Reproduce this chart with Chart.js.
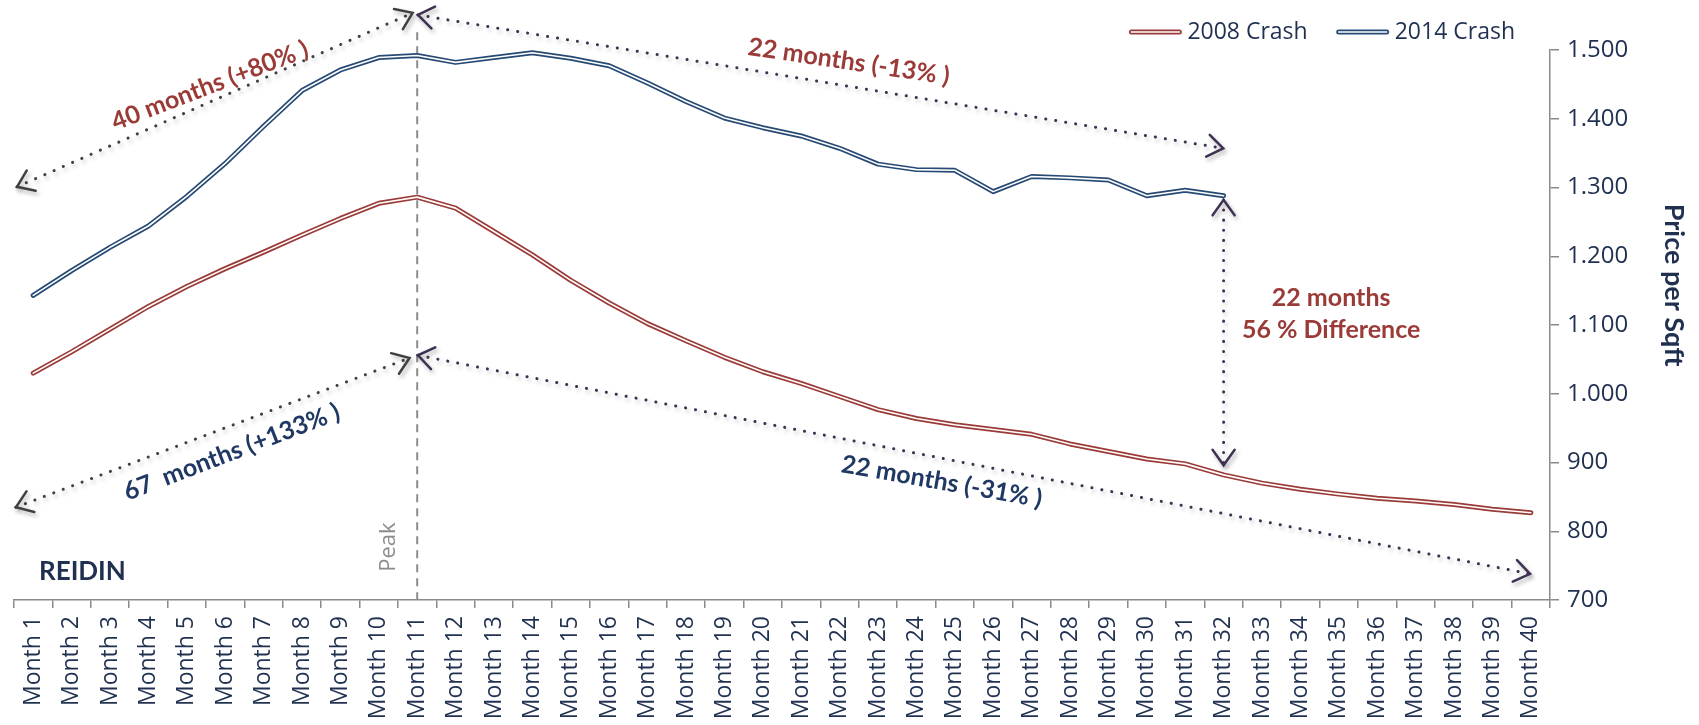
<!DOCTYPE html>
<html>
<head>
<meta charset="utf-8">
<script src="https://cdn.jsdelivr.net/npm/chart.js@4.4.1/dist/chart.umd.min.js"></script>
<style>
  html, body { margin: 0; padding: 0; background: #fff; }
  #wrap { width: 1699px; height: 725px; position: relative; }
</style>
</head>
<body>
<div id="wrap"><canvas id="chart"></canvas></div>
<script>
const months = ['Month 1', 'Month 2', 'Month 3', 'Month 4', 'Month 5', 'Month 6', 'Month 7', 'Month 8', 'Month 9', 'Month 10',
  'Month 11', 'Month 12', 'Month 13', 'Month 14', 'Month 15', 'Month 16', 'Month 17', 'Month 18', 'Month 19', 'Month 20',
  'Month 21', 'Month 22', 'Month 23', 'Month 24', 'Month 25', 'Month 26', 'Month 27', 'Month 28', 'Month 29', 'Month 30',
  'Month 31', 'Month 32', 'Month 33', 'Month 34', 'Month 35', 'Month 36', 'Month 37', 'Month 38', 'Month 39', 'Month 40']

const crash2008 = [1030, 1061, 1094, 1127, 1156, 1182, 1206, 1231, 1255, 1277,
  1286, 1270, 1236, 1202, 1165, 1132, 1102, 1077, 1053, 1032,
  1015, 996, 977, 964, 955, 948, 941, 927, 916, 905,
  898, 882, 870, 861, 854, 848, 844, 839, 832, 827]

const crash2014 = [1143, 1179, 1213, 1244, 1287, 1335, 1389, 1441, 1471, 1489,
  1492, 1482, 1489, 1496, 1488, 1477, 1452, 1425, 1401, 1387,
  1375, 1357, 1334, 1326, 1325, 1294, 1316, 1314, 1311, 1288,
  1296, 1288]

const yTickValues = [700, 800, 900, 1000, 1100, 1200, 1300, 1400, 1500]
const yTickLabels = ['700', '800', '900', '1.000', '1.100', '1.200', '1.300', '1.400', '1.500']

const red = '#9B3B38'
const blue = '#264A73'
const navy = '#1F3050'
const axisGrey = '#8a8a8a'

// annotations, in category index / value units
const peakIndex = 10
const arrows = [
  { from: [-0.42, 1301], to: [9.88, 1554], color: '#404040' },
  { from: [10.02, 1551], to: [30.99, 1357], color: '#3F3151' },
  { from: [-0.45, 835], to: [9.8, 1052], color: '#404040' },
  { from: [10.02, 1056], to: [38.98, 738], color: '#3F3151' },
  { from: [31, 1282], to: [31, 896], color: '#3F3151' }
]
const notes = [
  { text: '40 months (+80% )', at: [4.6, 1448], angle: -21, color: red },
  { text: '22 months (-13% )', at: [21.24, 1483], angle: 8.5, color: red },
  { text: '67  months (+133% )', at: [5.17, 915], angle: -21, color: '#1F3864' },
  { text: '22 months (-31% )', at: [23.66, 872], angle: 10, color: '#1F3864' },
  { text: '22 months', at: [33.8, 1139], angle: 0, color: red },
  { text: '56 % Difference', at: [33.8, 1093], angle: 0, color: red }
]

const annotate = {
  id: 'annotate',
  beforeDatasetsDraw(chart) {
    const {ctx, scales: {x, y}} = chart
    const px = x.getPixelForValue(peakIndex)
    ctx.save()
    ctx.strokeStyle = '#8c8c8c'
    ctx.lineWidth = 2
    ctx.setLineDash([8, 6])
    ctx.beginPath()
    ctx.moveTo(px, y.getPixelForValue(1526))
    ctx.lineTo(px, y.bottom)
    ctx.stroke()
    ctx.restore()

    ctx.save()
    ctx.translate(x.getPixelForValue(9.26), y.getPixelForValue(777))
    ctx.rotate(-Math.PI / 2)
    ctx.fillStyle = '#8c8c8c'
    ctx.font = '22px "Open Sans"'
    ctx.textAlign = 'center'
    ctx.textBaseline = 'middle'
    ctx.fillText('Peak', 0, 0)
    ctx.restore()
  },
  afterDatasetsDraw(chart) {
    const {ctx, scales: {x, y}} = chart

    arrows.forEach(a => {
      const x1 = x.getPixelForValue(a.from[0]), y1 = y.getPixelForValue(a.from[1])
      const x2 = x.getPixelForValue(a.to[0]), y2 = y.getPixelForValue(a.to[1])
      ctx.save()
      ctx.shadowColor = 'rgba(0,0,0,0.3)'
      ctx.shadowBlur = 4
      ctx.shadowOffsetX = 2
      ctx.shadowOffsetY = 3
      ctx.strokeStyle = a.color
      ctx.lineCap = 'round'
      ctx.lineWidth = 3
      ctx.setLineDash([0.1, 10])
      ctx.beginPath()
      ctx.moveTo(x1, y1)
      ctx.lineTo(x2, y2)
      ctx.stroke()
      ctx.setLineDash([])
      ctx.lineWidth = 2.5
      const head = (tx, ty, fx, fy) => {
        const ang = Math.atan2(ty - fy, tx - fx)
        const len = 19, spread = 0.62
        ctx.beginPath()
        ctx.moveTo(tx - len * Math.cos(ang - spread), ty - len * Math.sin(ang - spread))
        ctx.lineTo(tx, ty)
        ctx.lineTo(tx - len * Math.cos(ang + spread), ty - len * Math.sin(ang + spread))
        ctx.stroke()
      }
      head(x1, y1, x2, y2)
      head(x2, y2, x1, y1)
      ctx.restore()
    })

    notes.forEach(n => {
      ctx.save()
      ctx.translate(x.getPixelForValue(n.at[0]), y.getPixelForValue(n.at[1]))
      ctx.rotate(n.angle * Math.PI / 180)
      ctx.fillStyle = n.color
      ctx.font = 'bold 25px Lato'
      ctx.textAlign = 'center'
      ctx.textBaseline = 'middle'
      ctx.fillText(n.text, 0, 0)
      ctx.restore()
    })

    ctx.save()
    ctx.fillStyle = navy
    ctx.font = 'bold 26px Lato'
    ctx.textAlign = 'left'
    ctx.textBaseline = 'middle'
    ctx.fillText('REIDIN', x.getPixelForValue(0.15), y.getPixelForValue(741))
    ctx.restore()
  },
  afterDraw(chart) {
    const {ctx, scales: {y}, chartArea} = chart
    // axis title
    ctx.save()
    ctx.translate(y.right - 25, y.getPixelForValue(1158))
    ctx.rotate(Math.PI / 2)
    ctx.fillStyle = navy
    ctx.font = 'bold 27px Lato'
    ctx.textAlign = 'center'
    ctx.textBaseline = 'middle'
    ctx.fillText('Price per Sqft', 0, 0)
    ctx.restore()

    // legend
    const items = chart.data.datasets.filter(d => d.label)
    ctx.save()
    ctx.font = '23px "Open Sans"'
    const sample = 54, gap = 5, between = 28
    let total = 0
    items.forEach((d, i) => {
      total += sample + gap + ctx.measureText(d.label).width + (i ? between : 0)
    })
    let lx = chartArea.right - 35 - total
    const ly = chartArea.top - 18
    items.forEach(d => {
      ctx.lineCap = 'round'
      ctx.strokeStyle = d.borderColor
      ctx.lineWidth = 5
      ctx.beginPath(); ctx.moveTo(lx + 3, ly); ctx.lineTo(lx + sample - 3, ly); ctx.stroke()
      ctx.strokeStyle = '#fff'
      ctx.lineWidth = 1.6
      ctx.beginPath(); ctx.moveTo(lx + 3, ly); ctx.lineTo(lx + sample - 3, ly); ctx.stroke()
      ctx.fillStyle = navy
      ctx.textAlign = 'left'
      ctx.textBaseline = 'middle'
      ctx.fillText(d.label, lx + sample + gap, ly)
      lx += sample + gap + ctx.measureText(d.label).width + between
    })
    ctx.restore()
  }
}

const lineBase = {
  pointRadius: 0,
  tension: 0,
  fill: false,
  borderCapStyle: 'round',
  borderJoinStyle: 'round',
  spanGaps: false
}

new Chart(document.getElementById('chart'), {
  type: 'line',
  data: {
    labels: months,
    datasets: [
      { ...lineBase, data: crash2008, borderColor: '#fff', borderWidth: 1.6, order: 0 },
      { ...lineBase, data: crash2014, borderColor: '#fff', borderWidth: 1.6, order: 0 },
      { ...lineBase, label: '2008 Crash', data: crash2008, borderColor: red, borderWidth: 5, order: 1 },
      { ...lineBase, label: '2014 Crash', data: crash2014, borderColor: blue, borderWidth: 5, order: 1 }
    ]
  },
  options: {
    responsive: true,
    maintainAspectRatio: false,
    animation: false,
    layout: { padding: { top: 50, left: 14, right: 0, bottom: 0 } },
    plugins: {
      legend: { display: false },
      tooltip: { enabled: false }
    },
    scales: {
      x: {
        type: 'category',
        offset: true,
        grid: { offset: true, drawOnChartArea: false, tickLength: 8, color: axisGrey, lineWidth: 1.5 },
        border: { color: axisGrey, width: 1.5 },
        ticks: {
          autoSkip: false, minRotation: 90, maxRotation: 90, padding: 8,
          color: navy, font: { family: 'Open Sans', size: 23 }
        },
        afterFit: s => { s.height = 125 }
      },
      y: {
        position: 'right',
        min: 700,
        max: 1500,
        afterBuildTicks: s => { s.ticks = yTickValues.map(v => ({ value: v })) },
        grid: { drawOnChartArea: false, tickLength: 9, color: axisGrey, lineWidth: 1.5 },
        border: { color: axisGrey, width: 1.5 },
        ticks: {
          padding: 8,
          color: navy,
          font: { family: 'Open Sans', size: 24 },
          callback: (v, i) => yTickLabels[i]
        },
        afterFit: s => { s.width = 149 }
      }
    }
  },
  plugins: [annotate]
})
</script>
</body>
</html>
